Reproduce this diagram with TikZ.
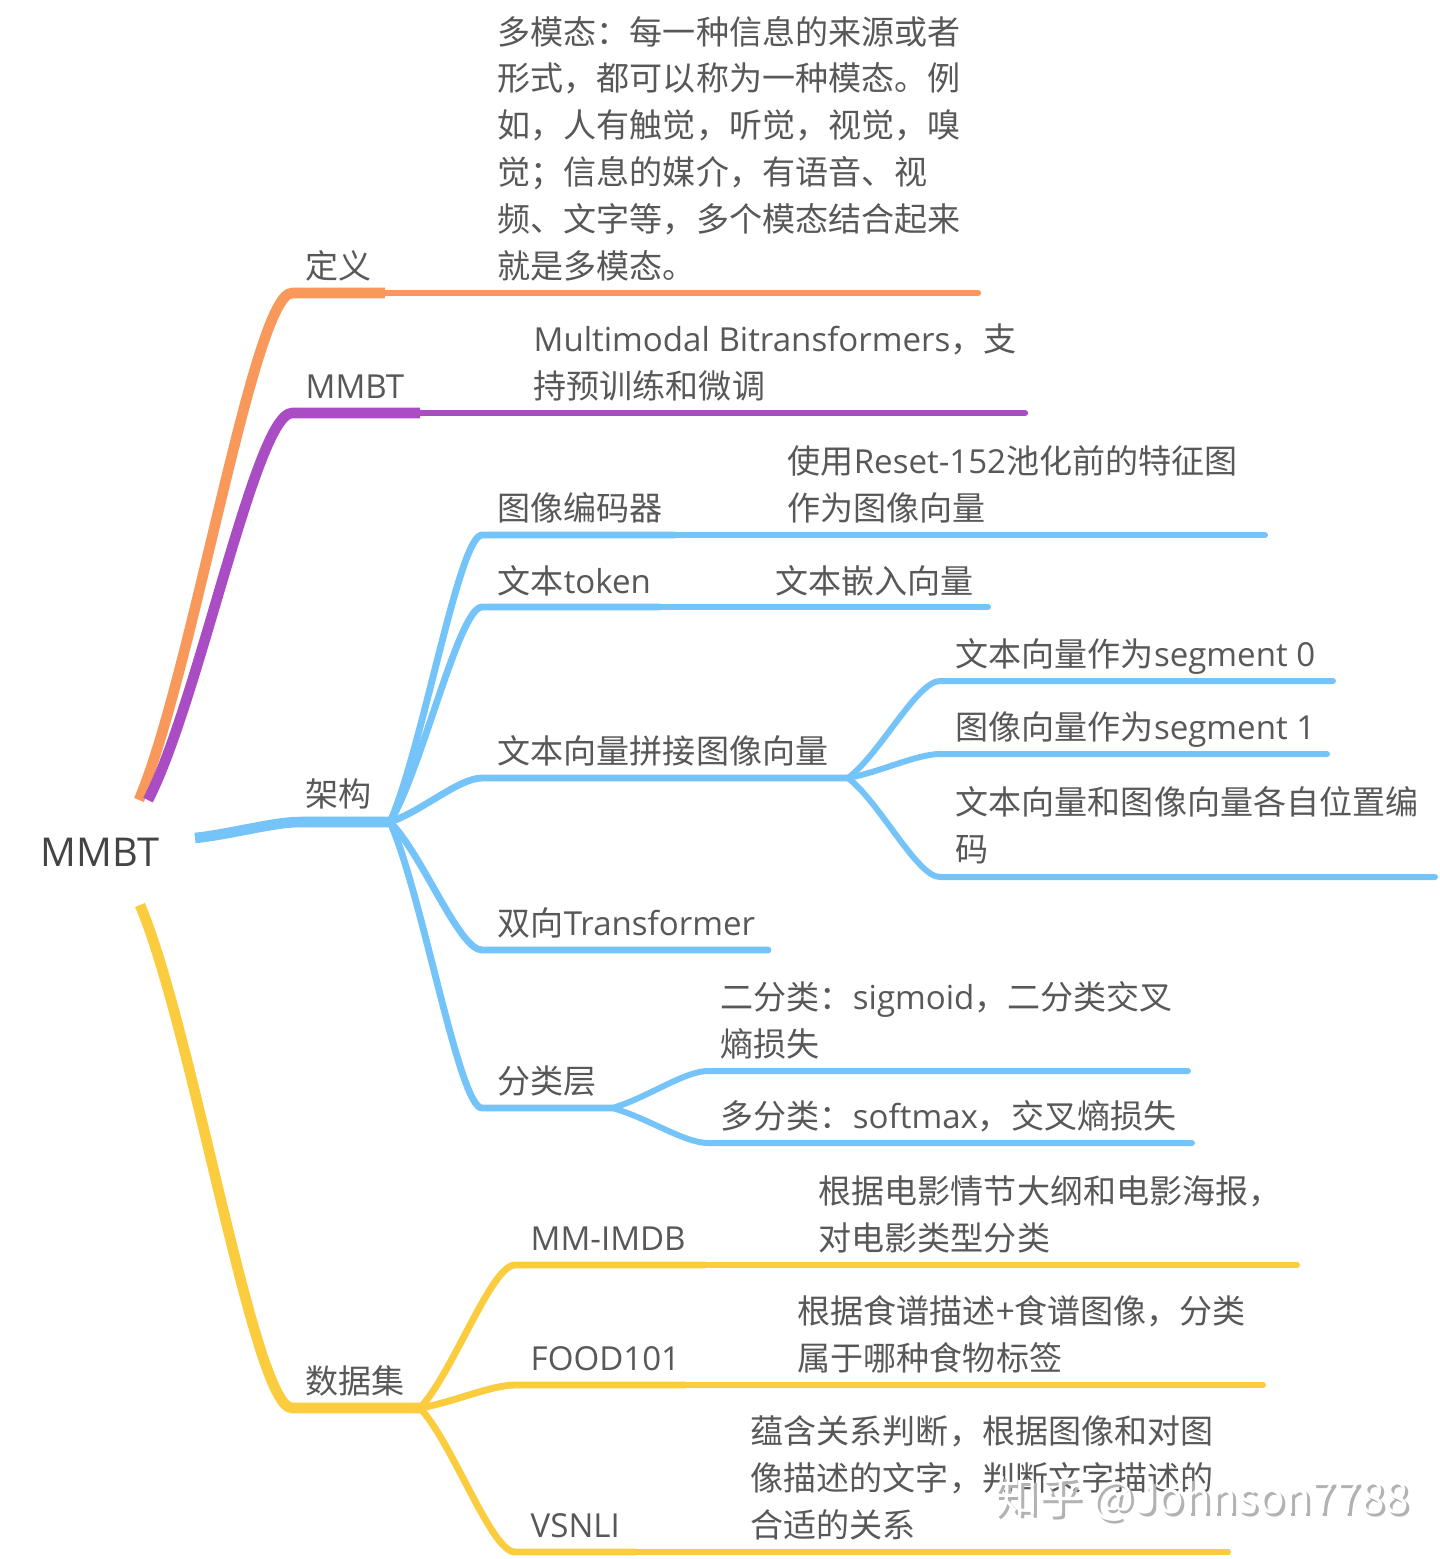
\documentclass[tikz,border=0pt]{standalone}
\usepackage{fontspec}
\newfontfamily\cjk{Noto Sans CJK SC}
\newfontfamily\lat{Open Sans}
\usetikzlibrary{calc}

\definecolor{textgray}{RGB}{88,88,88}
\definecolor{rootgray}{RGB}{68,68,68}
\definecolor{defcol}{RGB}{248,152,90}
\definecolor{mmbtcol}{RGB}{170,76,196}
\definecolor{archcol}{RGB}{116,196,250}
\definecolor{datacol}{RGB}{250,204,62}

\begin{document}
\begin{tikzpicture}[
    x=0.01cm, y=-0.01cm,
    txt/.style={font=\cjk\fontsize{9.4pt}{13.3pt}\selectfont, text=textgray, inner sep=0pt, anchor=base west, align=left},
    rootlabel/.style={font=\lat\fontsize{11.3pt}{13pt}\selectfont, text=rootgray, inner sep=0pt, anchor=base west},
    branch/.style={to path={let \p1=(\tikztostart), \p2=(\tikztotarget) in
        .. controls ({0.65*\x1+0.35*\x2},{0.75*\y1+0.25*\y2}) and ({0.25*\x1+0.75*\x2},\y2) .. (\tikztotarget)}},
    lvlone/.style={line width=3pt, line join=round},
    lvltwo/.style={line width=1.95pt, line cap=round, line join=round},
    lvlthree/.style={line width=1.7pt, line cap=round, line join=round},
    thin/.style={line width=1.8pt, line cap=round}
  ]

  \fill[white] (0,0) rectangle (1440,1559);
  \useasboundingbox (0,0) rectangle (1440,1559);

  % root
  \node[rootlabel] (mmbt) at (40,866) {MMBT};

  \coordinate (defstart) at (139,800);
  \coordinate (mmbtstart) at (148,800);
  \coordinate (archstart) at (195,838);
  \coordinate (datastart) at (140,905);

  % junctions and underlines
  \coordinate (def1) at (292,293);   \coordinate (def2) at (385,293);   \coordinate (def3) at (978,293);
  \coordinate (mm1) at (292,413);    \coordinate (mm2) at (420,413);    \coordinate (mm3) at (1025,413);
  \coordinate (arch1) at (300,822);  \coordinate (arch2) at (390,822);
  \coordinate (data1) at (292,1408); \coordinate (data2) at (420,1408);

  \coordinate (enc1) at (482,535);   \coordinate (enc2) at (675,535);   \coordinate (enc3) at (1265,535);
  \coordinate (tok1) at (482,607);   \coordinate (tok2) at (660,607);   \coordinate (tok3) at (988,607);
  \coordinate (cat1) at (482,778);   \coordinate (cat2) at (848,778);
  \coordinate (segA1) at (940,681);  \coordinate (segA2) at (1333,681);
  \coordinate (segB1) at (940,754);  \coordinate (segB2) at (1327,754);
  \coordinate (pos1) at (940,877);   \coordinate (pos2) at (1435,877);
  \coordinate (bi1) at (482,950);    \coordinate (bi2) at (768,950);
  \coordinate (cls1) at (482,1108);  \coordinate (cls2) at (612,1108);
  \coordinate (bin1) at (708,1071);  \coordinate (bin2) at (1188,1071);
  \coordinate (multi1) at (708,1143); \coordinate (multi2) at (1192,1143);

  \coordinate (imdb1) at (515,1265); \coordinate (imdb2) at (705,1265); \coordinate (imdb3) at (1297,1265);
  \coordinate (food1) at (515,1385); \coordinate (food2) at (685,1385); \coordinate (food3) at (1263,1385);
  \coordinate (vs1) at (515,1552);   \coordinate (vs2) at (635,1552);   \coordinate (vs3) at (1228,1552);

  \draw[defcol, lvlone] (defstart) to[branch] (def1) -- (def2);
  \draw[defcol, thin] (def2) -- (def3);
  \draw[mmbtcol, lvlone] (mmbtstart) to[branch] (mm1) -- (mm2);
  \draw[mmbtcol, thin] (mm2) -- (mm3);
  \draw[datacol, lvlone] (datastart) to[branch] (data1) -- (data2);

  \draw[archcol, lvltwo] (arch2) to[branch] (enc1) -- (enc2);
  \draw[archcol, lvlthree] (enc2) -- (enc3);
  \draw[archcol, lvltwo] (arch2) to[branch] (tok1) -- (tok2);
  \draw[archcol, lvlthree] (tok2) -- (tok3);
  \draw[archcol, lvltwo] (arch2) to[branch] (cat1) -- (cat2);
  \draw[archcol, lvlthree] (cat2) to[branch] (segA1) -- (segA2);
  \draw[archcol, lvlthree] (cat2) to[branch] (segB1) -- (segB2);
  \draw[archcol, lvlthree] (cat2) to[branch] (pos1) -- (pos2);
  \draw[archcol, lvltwo] (arch2) to[branch] (bi1) -- (bi2);
  \draw[archcol, lvltwo] (arch2) to[branch] (cls1) -- (cls2);
  \draw[archcol, lvlthree] (cls2) to[branch] (bin1) -- (bin2);
  \draw[archcol, lvlthree] (cls2) to[branch] (multi1) -- (multi2);
  \draw[archcol, lvlone] (archstart) to[branch] (arch1) -- (arch2);

  \draw[datacol, lvltwo] (data2) to[branch] (imdb1) -- (imdb2);
  \draw[datacol, lvlthree] (imdb2) -- (imdb3);
  \draw[datacol, lvltwo] (data2) to[branch] (food1) -- (food2);
  \draw[datacol, lvlthree] (food2) -- (food3);
  \draw[datacol, lvltwo] (data2) to[branch] (vs1) -- (vs2);
  \draw[datacol, lvlthree] (vs2) -- (vs3);

  % labels
  \node[txt] (def) at (305,278) {定义};
  \node[txt] (defnote) at (497,278) {多模态：每一种信息的来源或者\\形式，都可以称为一种模态。例\\如，人有触觉，听觉，视觉，嗅\\觉；信息的媒介，有语音、视\\频、文字等，多个模态结合起来\\就是多模态。};
  \node[txt] (mmbtlabel) at (305,398) {\lat MMBT};
  \node[txt] (mmbtnote) at (533,398) {{\lat Multimodal Bitransformers}，支\\持预训练和微调};
  \node[txt] (arch) at (305,806) {架构};
  \node[txt] (enc) at (497,520) {图像编码器};
  \node[txt] (encnote) at (787,520) {使用{\lat Reset-152}池化前的特征图\\作为图像向量};
  \node[txt] (tok) at (497,593) {文本{\lat token}};
  \node[txt] (toknote) at (775,593) {文本嵌入向量};
  \node[txt] (cat) at (497,763) {文本向量拼接图像向量};
  \node[txt] (segA) at (955,666) {文本向量作为{\lat segment 0}};
  \node[txt] (segB) at (955,739) {图像向量作为{\lat segment 1}};
  \node[txt] (pos) at (955,861) {文本向量和图像向量各自位置编\\码};
  \node[txt] (bi) at (497,935) {双向{\lat Transformer}};
  \node[txt] (cls) at (497,1093) {分类层};
  \node[txt] (bin) at (720,1056) {二分类：{\lat sigmoid}，二分类交叉\\熵损失};
  \node[txt] (multi) at (720,1128) {多分类：{\lat softmax}，交叉熵损失};
  \node[txt] (data) at (305,1393) {数据集};
  \node[txt] (imdb) at (530,1250) {\lat MM-IMDB};
  \node[txt] (imdbnote) at (818,1250) {根据电影情节大纲和电影海报，\\对电影类型分类};
  \node[txt] (food) at (530,1370) {\lat FOOD101};
  \node[txt] (foodnote) at (797,1370) {根据食谱描述+食谱图像，分类\\属于哪种食物标签};
  \node[txt] (vs) at (530,1537) {\lat VSNLI};
  \node[txt] (vsnote) at (750,1537) {蕴含关系判断，根据图像和对图\\像描述的文字，判断文字描述的\\合适的关系};

  % watermark
  \node[txt, font=\cjk\fontsize{12.5pt}{14pt}\selectfont, text=gray!60] (wmshade) at (997,1516) {知乎 @Johnson7788};
  \node[txt, font=\cjk\fontsize{12.5pt}{14pt}\selectfont, text=white] (wm) at (994,1513) {知乎 @Johnson7788};
\end{tikzpicture}
\end{document}
